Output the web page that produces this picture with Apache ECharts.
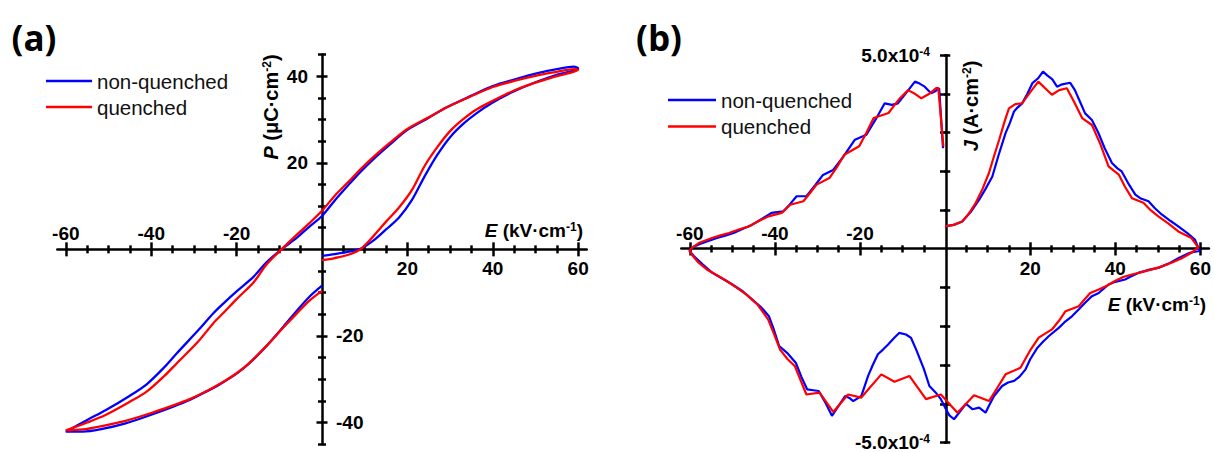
<!DOCTYPE html>
<html><head><meta charset="utf-8">
<script src="https://cdn.jsdelivr.net/npm/echarts@6/dist/echarts.min.js"></script>
<style>html,body{margin:0;padding:0;background:#fff}#c{width:1214px;height:452px}</style>
</head><body><div id="c"></div>
<script>
// ---------- Panel (a): P (µC·cm^-2) vs E (kV·cm^-1) ----------
const PE_nonquenched = [
  [0,-1.5],[3,-1.1],[6,-0.6],[9,0.1],[12,2.0],[15,4.6],[18,7.3],[21,11.3],[24,16.8],[27,21.8],[30,25.9],[33,28.9],[36,31.3],[40,33.9],[45,36.5],[50,38.6],[55,40.3],[60,41.8],
  [59,42.2],[55,41.6],[51,40.8],[45,39.2],[40,37.7],[35,35.5],[29,32.7],[25,30.4],[20,27.6],[16,24.3],[12,20.8],[9,17.9],[6.6,15.3],[3,11.3],[0,7.7],
  [-3,5.2],[-6,2.6],[-9.5,0],[-13,-3.0],[-16,-6.3],[-20,-9.7],[-23,-12.4],[-25.5,-14.8],[-29,-18.7],[-34,-24.0],[-37,-27.3],[-41,-31.1],[-45,-33.8],[-50.6,-37.1],[-55,-39.4],[-60,-42.1],
  [-56,-42.1],[-52,-41.6],[-46,-40.2],[-40,-38.2],[-35,-36.4],[-31,-34.8],[-27,-32.8],[-24,-31.2],[-20,-28.7],[-17,-26.3],[-13,-22.3],[-9,-17.8],[-6,-14.3],[-3,-11.0],[0,-8.4]
];
const PE_quenched = [
  [0,-2.5],[3,-2.0],[6,-1.3],[9,0],[12,3.0],[15,6.4],[18,9.6],[21,13.6],[24,19.2],[27,23.6],[30,27.3],[33,30.0],[36,32.2],[40,34.3],[45,36.7],[50,38.5],[55,40.0],[60,41.5],
  [59,41.6],[55,41.0],[51,40.3],[45,38.9],[40,37.5],[35,35.4],[29,32.7],[25,30.5],[20,27.8],[16,24.7],[12,21.3],[9,18.5],[6.6,16.0],[3,12.4],[0,8.9],
  [-3,6.0],[-6,3.3],[-9.5,0],[-13,-3.5],[-16,-7.6],[-20,-11.5],[-23,-14.6],[-25.5,-17.1],[-29,-21.3],[-34,-26.3],[-37,-29.3],[-41,-32.8],[-45,-35.2],[-50.6,-38.2],[-55,-40.0],[-60,-41.8],
  [-56,-41.6],[-52,-40.9],[-46,-39.6],[-40,-37.8],[-35,-36.1],[-31,-34.6],[-27,-32.7],[-24,-31.1],[-20,-28.6],[-17,-26.2],[-13,-22.3],[-9,-18.0],[-6,-14.9],[-3,-11.9],[0,-9.6]
];
// ---------- Panel (b): J (in units of 1e-4 A·cm^-2) vs E (kV·cm^-1) ----------
const JE_nonquenched = [
  [0,0.58],[2,0.62],[4,0.71],[6,0.95],[8,1.27],[9.5,1.55],[11.1,1.87],[12.5,2.4],[14.2,2.99],[15.2,3.25],[16.2,3.55],[17,3.65],[18.1,3.76],[19.3,4.0],[20.5,4.28],[21.8,4.4],[23,4.58],[24,4.48],[25.2,4.38],[26.3,4.19],[27.5,4.25],[29.4,4.29],[30.5,4.1],[31.7,3.8],[32.9,3.5],[34.5,3.33],[36,3.0],[37.5,2.6],[39.2,2.22],[40.5,2.08],[41.5,2.0],[43,1.7],[44.7,1.4],[46,1.3],[47.8,1.23],[49.3,1.05],[50.9,0.89],[53,0.72],[54.8,0.58],[57,0.4],[58.7,0.24],[59.5,0.03],[59.8,-0.05],
  [57.5,-0.1],[54.8,-0.24],[52.5,-0.38],[50.1,-0.49],[47.5,-0.55],[45.4,-0.62],[43.5,-0.72],[42.3,-0.79],[40,-0.85],[38.4,-0.92],[37,-1.05],[36.1,-1.14],[34.5,-1.22],[32.9,-1.39],[31.5,-1.55],[29.8,-1.74],[28,-1.9],[26.7,-2.04],[24.4,-2.25],[23,-2.4],[21.7,-2.55],[20,-2.85],[18.9,-3.11],[17.5,-3.3],[16.2,-3.41],[14.8,-3.45],[13.4,-3.54],[11.5,-3.8],[10.3,-4.05],[9.5,-4.23],[8,-4.1],[6.4,-4.14],[4.9,-4.0],[3.5,-4.2],[2.1,-4.4],[1,-4.3],[0.2,-4.14],
  [-1,-3.88],[-2.3,-3.7],[-3.7,-3.54],[-5,-3.1],[-6.8,-2.6],[-8,-2.3],[-9.2,-2.21],[-10.8,-2.17],[-12,-2.3],[-13.4,-2.47],[-14.6,-2.6],[-15.8,-2.72],[-17,-3.0],[-18.1,-3.28],[-19.7,-3.8],[-21.6,-3.93],[-22.5,-3.85],[-23.5,-3.8],[-25,-4.05],[-26.6,-4.31],[-28,-4.0],[-29.7,-3.67],[-31,-3.65],[-32.4,-3.63],[-33.8,-3.3],[-35.1,-2.94],[-37,-2.7],[-39,-2.51],[-40.2,-2.1],[-41.4,-1.74],[-43.3,-1.5],[-45.3,-1.31],[-47.5,-1.1],[-50,-0.92],[-52.3,-0.77],[-54.7,-0.62],[-57,-0.4],[-59,-0.19],[-60.1,-0.05],
  [-59.2,0.05],[-57.1,0.15],[-55.3,0.22],[-53.6,0.28],[-51.5,0.35],[-49.7,0.41],[-47.5,0.52],[-45.4,0.62],[-43,0.78],[-40.8,0.93],[-38,0.97],[-36.5,1.15],[-34.9,1.36],[-32.6,1.36],[-30.5,1.65],[-28.7,1.91],[-26.3,2.04],[-23.8,2.4],[-21.2,2.82],[-18.5,2.95],[-16.3,3.35],[-14.2,3.76],[-12.5,3.72],[-11.1,3.76],[-9,4.05],[-7.1,4.32],[-6,4.27],[-4.8,4.19],[-3.3,4.02],[-2.2,4.08],[-1.4,4.15],[-0.5,2.6]
];
const JE_quenched = [
  [0,0.58],[2,0.62],[4.06,0.71],[5.5,0.9],[7.2,1.19],[8.8,1.55],[10.3,1.96],[11.5,2.4],[12.7,2.82],[14,3.3],[15,3.63],[16.5,3.74],[18.1,3.76],[20,4.05],[21.9,4.32],[23.5,4.15],[25.1,3.98],[26.8,4.1],[28.6,4.15],[30.3,3.8],[32.2,3.38],[34.5,3.2],[36.5,2.7],[38.4,2.13],[40.8,1.92],[42.3,1.6],[43.9,1.31],[46.6,1.19],[48.3,1.0],[50.1,0.84],[52.5,0.65],[54.8,0.45],[57.9,0.28],[59.5,0.03],
  [58.8,-0.02],[57.9,-0.1],[55.5,-0.25],[53.2,-0.36],[51,-0.45],[48.6,-0.53],[46.2,-0.6],[43.9,-0.66],[42,-0.72],[39.9,-0.83],[38,-0.95],[36.1,-1.05],[34.1,-1.14],[32.8,-1.3],[31.4,-1.48],[28.3,-1.61],[26.8,-1.85],[25.1,-2.08],[22,-2.29],[20.1,-2.6],[17.7,-3.07],[14.2,-3.24],[12.2,-3.6],[10.3,-3.93],[6.8,-3.78],[2.9,-4.23],
  [-1,-3.76],[-4.5,-3.88],[-8.4,-3.28],[-11.9,-3.43],[-15,-3.24],[-19.7,-3.84],[-22.8,-3.76],[-26.3,-4.21],[-29.5,-3.71],[-32.6,-3.76],[-35.3,-3.03],[-37,-2.85],[-38.8,-2.6],[-40.2,-2.2],[-41.6,-1.82],[-44,-1.45],[-46.7,-1.18],[-49,-1.0],[-51.3,-0.83],[-53.6,-0.68],[-56,-0.53],[-58,-0.35],[-59.5,-0.15],[-60,-0.05],
  [-59.8,0.0],[-57.9,0.15],[-54.8,0.28],[-52.8,0.35],[-50.8,0.41],[-48.5,0.5],[-46.2,0.58],[-43.8,0.72],[-41.5,0.84],[-38.4,0.93],[-36.4,1.14],[-33.3,1.23],[-31.7,1.45],[-30.2,1.66],[-27.2,1.83],[-25.5,2.1],[-23.7,2.43],[-20.2,2.65],[-18.5,3.0],[-16.8,3.38],[-13.3,3.51],[-12,3.7],[-10.6,3.89],[-8.7,4.1],[-7,4.0],[-5.6,3.89],[-3.8,4.0],[-2.1,4.15],[-1.6,4.15],[-0.4,2.64]
];
// ---------- ticks / labels ----------
const X_MAJOR_TICKS = [-60,-40,-20,20,40,60];
const X_MINOR_TICKS = [-55,-50,-45,-35,-30,-25,-15,-10,-5,5,10,15,25,30,35,45,50,55];
const X_LABELS_TOP = [-60,-40,-20];
const X_LABELS_BOTTOM = [20,40,60];
const PA_MAJOR_TICKS = [-40,-20,20,40];
const PA_MINOR_TICKS = [-45,-35,-30,-25,-15,-10,-5,5,10,15,25,30,35,45];
const PA_LABELS_LEFT = [20,40];
const PA_LABELS_RIGHT = [-40,-20];
const JB_TICKS = [-5,-4,-3,-2,-1,1,2,3,4,5];
const JB_LABELS = [-5,5];
const LEGEND_NAMES = ['non-quenched','quenched'];

const FONT = '"Liberation Sans", Arial, sans-serif';
const BLUE = '#0000ff', RED = '#ff0000';
const AX = {color:'#000', width:2.5};

// grid geometry (pixels)
const G = [
  {left:57.3, top:54.5, width:529.4, height:389.7},
  {left:681.3, top:55.3, width:529.4, height:388}
];
// offsets that bring axes from grid edges onto the zero lines (E=0 at centre, y=0 at centre)
const XOFF = G.map(g => -g.height/2);
const YOFF = G.map(g => -g.width/2);

function xAx(grid, pos, ticks, len, labels, line){
  return {
    type:'value', gridIndex:grid, position:pos, min:-62, max:62, offset:XOFF[grid],
    axisLine:{show:line, onZero:false, lineStyle:AX},
    axisTick:{show:true, customValues:ticks, length:len, lineStyle:AX},
    axisLabel:{show:!!labels, customValues:labels||[], margin: pos==='top'?6:10,
      color:'#000', fontFamily:FONT, fontWeight:'bold', fontSize:19},
    splitLine:{show:false}
  };
}
function yAx(grid, pos, min, max, ticks, len, labels, line, extraLabel){
  return {
    type:'value', gridIndex:grid, position:pos, min:min, max:max, offset:YOFF[grid],
    axisLine:{show:line, onZero:false, lineStyle:AX},
    axisTick:{show:true, customValues:ticks, length:len, lineStyle:AX},
    axisLabel:Object.assign({show:!!labels, customValues:labels||[], margin:14,
      color:'#000', fontFamily:FONT, fontWeight:'bold', fontSize:19}, extraLabel||{}),
    splitLine:{show:false}
  };
}
const sup = {fontFamily:FONT, fontWeight:'bold', fontSize:12, verticalAlign:'top', color:'#000'};
const bld = {fontFamily:FONT, fontWeight:'bold', fontSize:19, color:'#000'};

const chart = echarts.init(document.getElementById('c'), null, {renderer:'svg'});
const legendBase = {data:LEGEND_NAMES, orient:'vertical', icon:'rect', itemHeight:2.4,
  selectedMode:false, textStyle:{fontSize:20.5, fontFamily:FONT, color:'#111'}};
const option = {
  animation:false,
  backgroundColor:'#fff',
  grid:G,
  xAxis:[
    xAx(0,'bottom',X_MAJOR_TICKS,7,X_LABELS_BOTTOM,true),
    xAx(0,'top',X_MAJOR_TICKS,7,X_LABELS_TOP,false),
    xAx(0,'bottom',X_MINOR_TICKS,4,null,false),
    xAx(0,'top',X_MINOR_TICKS,4,null,false),
    xAx(1,'bottom',X_MAJOR_TICKS,7,X_LABELS_BOTTOM,true),
    xAx(1,'top',X_MAJOR_TICKS,7,X_LABELS_TOP,false),
    xAx(1,'bottom',X_MINOR_TICKS,4,null,false),
    xAx(1,'top',X_MINOR_TICKS,4,null,false)
  ],
  yAxis:[
    yAx(0,'left',-45,45,PA_MAJOR_TICKS,5.5,PA_LABELS_LEFT,true),
    yAx(0,'right',-45,45,PA_MAJOR_TICKS,5.5,PA_LABELS_RIGHT,false),
    yAx(0,'left',-45,45,PA_MINOR_TICKS,4,null,false),
    yAx(0,'right',-45,45,PA_MINOR_TICKS,4,null,false),
    yAx(1,'left',-5,5,JB_TICKS,6,JB_LABELS,true,{
      margin:16,
      formatter:v => '{b|' + (v<0?'-':'') + Math.abs(v).toFixed(1) + 'x10}{s|-4}',
      rich:{b:bld, s:sup}
    }),
    yAx(1,'right',-5,5,JB_TICKS,6,null,false)
  ],
  legend:[
    Object.assign({left:41, top:65.5, itemWidth:46, itemGap:5}, legendBase),
    Object.assign({left:663, top:84.5, itemWidth:48, itemGap:5.5}, legendBase)
  ],
  series:[
    {type:'line', name:'non-quenched', xAxisIndex:0, yAxisIndex:0, data:PE_nonquenched, symbol:'none', showSymbol:false, smooth:0.3,
     lineStyle:{color:BLUE, width:2.3}, itemStyle:{color:BLUE}},
    {type:'line', name:'quenched', xAxisIndex:0, yAxisIndex:0, data:PE_quenched, symbol:'none', showSymbol:false, smooth:0.3,
     lineStyle:{color:RED, width:2.3}, itemStyle:{color:RED}},
    {type:'line', name:'non-quenched', xAxisIndex:4, yAxisIndex:4, data:JE_nonquenched, symbol:'none', showSymbol:false,
     lineStyle:{color:BLUE, width:2.2}, itemStyle:{color:BLUE}},
    {type:'line', name:'quenched', xAxisIndex:4, yAxisIndex:4, data:JE_quenched, symbol:'none', showSymbol:false,
     lineStyle:{color:RED, width:2.2}, itemStyle:{color:RED}}
  ],
  graphic:[
    {type:'text', x:34, y:37, style:{text:'(a)', fontFamily:'"Open Sans", sans-serif', fontWeight:'bold', fontSize:35, fill:'#000', align:'center', verticalAlign:'middle'}},
    {type:'text', x:659, y:37, style:{text:'(b)', fontFamily:'"Open Sans", sans-serif', fontWeight:'bold', fontSize:35, fill:'#000', align:'center', verticalAlign:'middle'}},
    {type:'text', x:583, y:230, style:{text:'{i|E}{b| (kV·cm}{s|-1}{b|)}', align:'right', verticalAlign:'middle',
      rich:{i:Object.assign({}, bld, {fontStyle:'italic'}), b:bld, s:sup}}},
    {type:'text', x:1206, y:304, style:{text:'{i|E}{b| (kV·cm}{s|-1}{b|)}', align:'right', verticalAlign:'middle',
      rich:{i:Object.assign({}, bld, {fontStyle:'italic'}), b:bld, s:sup}}},
    {type:'text', x:271, y:107, rotation:Math.PI/2, style:{text:'{i|P}{b| (μC·cm}{s|-2}{b|)}', align:'center', verticalAlign:'middle',
      rich:{i:Object.assign({}, bld, {fontStyle:'italic', fontSize:20}), b:Object.assign({}, bld, {fontSize:20}), s:sup}}},
    {type:'text', x:971, y:106, rotation:Math.PI/2, style:{text:'{i|J}{b| (A·cm}{s|-2}{b|)}', align:'center', verticalAlign:'middle',
      rich:{i:Object.assign({}, bld, {fontStyle:'italic', fontSize:20}), b:Object.assign({}, bld, {fontSize:20}), s:sup}}}
  ]
};
chart.setOption(option);
</script></body></html>
